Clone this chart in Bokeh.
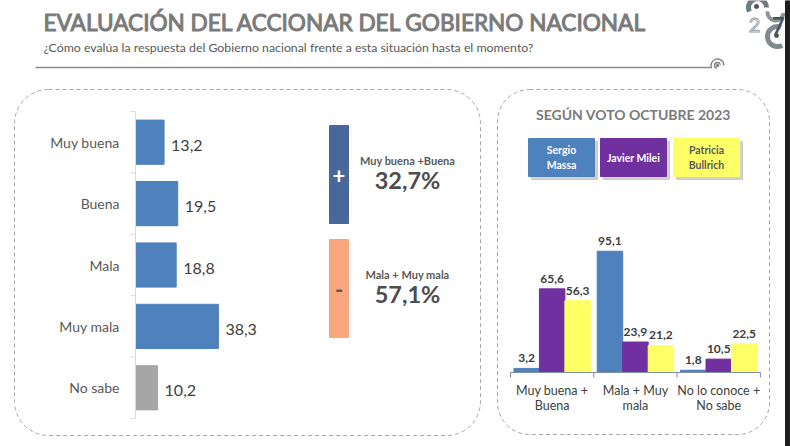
from bokeh.plotting import figure
from bokeh.models import Range1d
from bokeh.embed import file_html
from bokeh.resources import INLINE
from bokeh.core.properties import value

W, H = 790, 446

# ---------------- data ----------------
title_text = "EVALUACIÓN DEL ACCIONAR DEL GOBIERNO NACIONAL"
subtitle_text = "¿Cómo evalúa la respuesta del Gobierno nacional frente a esta situación hasta el momento?"

eval_cats = ["Muy buena", "Buena", "Mala", "Muy mala", "No sabe"]
eval_vals = [13.2, 19.5, 18.8, 38.3, 10.2]

summary_labels = ["Muy buena +Buena", "Mala + Muy mala"]
summary_vals = [32.7, 57.1]
summary_signs = ["+", "-"]

vote_title = "SEGÚN VOTO OCTUBRE 2023"
vote_groups = ["Muy buena +\nBuena", "Mala + Muy\nmala", "No lo conoce +\nNo sabe"]
candidates = ["Sergio\nMassa", "Javier Milei", "Patricia\nBullrich"]
massa = [3.2, 95.1, 1.8]
milei = [65.6, 23.9, 10.5]
bullrich = [56.3, 21.2, 22.5]


def fmt(v):
    return f"{v:.1f}".replace(".", ",")


# ---------------- styles / layout ----------------
FONT = value("Lato")
BLUE = "#4F81BD"
GREY_BAR = "#A6A6A6"
PURPLE = "#7030A0"
YELLOW = "#FFFF66"
DARK = "#404040"
MID = "#595959"
TITLE_GREY = "#7A7A7A"
cand_colors = [BLUE, PURPLE, YELLOW]
cand_text = ["white", "white", MID]
eval_colors = [BLUE, BLUE, BLUE, BLUE, GREY_BAR]

# left chart geometry (pixels)
L_X0, L_PX_PER = 135.0, 2.165
L_Y0, L_BAND = 111.0, 61.4
# right chart geometry (pixels)
R_X0, R_GROUP = 510.0, 83.3
R_Y0, R_PX_PER = 372.0, 1.275

p = figure(width=W, height=H, x_range=Range1d(0, W), y_range=Range1d(H, 0),
           output_backend="svg", toolbar_location=None,
           x_axis_type=None, y_axis_type=None, min_border=0)
p.outline_line_color = None
p.grid.visible = False
p.background_fill_color = "white"
p.border_fill_color = "white"

p.extra_x_ranges = {
    "lx": Range1d(-L_X0 / L_PX_PER, (W - L_X0) / L_PX_PER),
    "rx": Range1d(-R_X0 / R_GROUP, (W - R_X0) / R_GROUP),
}
p.extra_y_ranges = {
    "ly": Range1d((H - L_Y0) / L_BAND - 0.5, -L_Y0 / L_BAND - 0.5),
    "ry": Range1d(-(H - R_Y0) / R_PX_PER, R_Y0 / R_PX_PER),
}

# ---------------- header ----------------
p.text(x=[43], y=[22], text=[title_text], text_font=FONT, text_font_size="22.6px",
       text_color=TITLE_GREY, text_outline_color=TITLE_GREY,
       text_baseline="middle", text_align="left")
p.text(x=[43], y=[47], text=[subtitle_text], text_font=FONT, text_font_size="12.3px",
       text_color=MID, text_baseline="middle", text_align="left")
p.segment(x0=[35], y0=[67], x1=[710], y1=[67], line_color="#8C8C8C", line_width=1.6)
p.arc(x=[717, 717], y=[65, 65], radius=[3, 6.5], start_angle=[0.3, 0.0],
      end_angle=[4.5, 3.6], line_color="#7F7F7F", line_width=1.4)
p.scatter(x=[717], y=[65], size=2.5, color="#7F7F7F")

# logo (top right, partial)
p.arc(x=[757], y=[7], radius=[9], start_angle=[0], end_angle=[3.6],
      line_color="#6E7B80", line_width=5)
p.arc(x=[775], y=[12], radius=[8], start_angle=[3.0], end_angle=[6.2],
      line_color="#8A959A", line_width=4)
p.arc(x=[777], y=[36], radius=[10], start_angle=[1.2], end_angle=[5.2],
      line_color="#7E8A8F", line_width=5)
p.scatter(x=[756, 776], y=[6, 35], size=4, color="#4A555A")
p.text(x=[754], y=[24], text=["2"], text_font=FONT, text_font_size="20px",
       text_color="white", text_baseline="middle", text_align="center",
       text_outline_color="#9AA4A8")
p.text(x=[778], y=[25], text=["7"], text_font=FONT, text_font_size="22px",
       text_font_style="bold", text_color="#4A555A", text_baseline="middle",
       text_align="center")
p.quad(left=[785], right=[W], top=[0], bottom=[H], color="#1E1E1E")

# ---------------- panels ----------------
p.quad(left=[14], right=[480], top=[89], bottom=[435], fill_color=None,
       line_color="#A6A6A6", line_dash="4 3", line_width=1, border_radius=34)
p.quad(left=[497], right=[769], top=[89], bottom=[434], fill_color=None,
       line_color="#A6A6A6", line_dash="4 3", line_width=1, border_radius=32)

# ---------------- left chart ----------------
idx = list(range(len(eval_cats)))
p.hbar(y=idx, left=0, right=eval_vals, height=0.72, color=eval_colors,
       x_range_name="lx", y_range_name="ly")
p.text(x=eval_vals, y=idx, text=[fmt(v) for v in eval_vals], x_offset=7, y_offset=3,
       text_font=FONT, text_font_size="16px", text_color=DARK,
       text_baseline="middle", text_align="left",
       x_range_name="lx", y_range_name="ly")
p.text(x=[0] * len(idx), y=idx, text=eval_cats, x_offset=-16, y_offset=0,
       text_font=FONT, text_font_size="14px", text_color=MID,
       text_baseline="middle", text_align="right",
       x_range_name="lx", y_range_name="ly")
n = len(eval_cats)
p.segment(x0=[0], x1=[0], y0=[-0.5], y1=[n - 0.5], line_color="#D9D9D9",
          line_width=1, x_range_name="lx", y_range_name="ly")
bounds = [i - 0.5 for i in range(n + 1)]
tick = 5 / L_PX_PER
p.segment(x0=[-tick] * len(bounds), x1=[0] * len(bounds), y0=bounds, y1=bounds,
          line_color="#D9D9D9", line_width=1, x_range_name="lx", y_range_name="ly")

# summary boxes
box_colors = ["#48679A", "#FAA77F"]
sign_colors = ["white", MID]
box_tops = [125, 239]
for k in range(2):
    t = box_tops[k]
    p.quad(left=[329], right=[348], top=[t], bottom=[t + 98], color=box_colors[k])
    p.text(x=[338.5], y=[t + 50], text=[summary_signs[k]], text_font=FONT,
           text_font_size="22px", text_font_style="bold", text_color=sign_colors[k],
           text_baseline="middle", text_align="center")
    p.text(x=[407], y=[t + 35], text=[summary_labels[k]], text_font=FONT,
           text_font_size="11px", text_font_style="bold", text_color=MID,
           text_baseline="middle", text_align="center")
    p.text(x=[407], y=[t + 54], text=[fmt(summary_vals[k]) + "%"], text_font=FONT,
           text_font_size="23.5px", text_font_style="bold", text_color="#4D4D4D",
           text_baseline="middle", text_align="center")

# ---------------- right chart ----------------
p.text(x=[633], y=[114], text=[vote_title], text_font=FONT, text_font_size="14px",
       text_font_style="bold", text_color=TITLE_GREY, text_baseline="middle",
       text_align="center")

leg_left = [528, 600, 673]
for k in range(3):
    l = leg_left[k]
    p.quad(left=[l + 3], right=[l + 69], top=[141], bottom=[179], color="#BFBFBF",
           alpha=0.7)
    p.quad(left=[l], right=[l + 66], top=[138], bottom=[176], color=cand_colors[k])
    p.text(x=[l + 33], y=[157], text=[candidates[k]], text_font=FONT,
           text_font_size="10.5px", text_font_style="bold", text_color=cand_text[k],
           text_baseline="middle", text_align="center", text_line_height=1.2)

series = [massa, milei, bullrich]
BW = 0.306
for k, vals in enumerate(series):
    xs = [g + 0.5 + (k - 1) * BW for g in range(len(vote_groups))]
    p.vbar(x=xs, top=vals, bottom=0, width=BW, color=cand_colors[k],
           x_range_name="rx", y_range_name="ry")
    p.text(x=xs, y=vals, text=[fmt(v) for v in vals], y_offset=-6,
           text_font=FONT, text_font_size="12px", text_font_style="bold",
           text_color=DARK, text_baseline="bottom", text_align="center",
           x_range_name="rx", y_range_name="ry")

ng = len(vote_groups)
p.segment(x0=[0], x1=[ng], y0=[0], y1=[0], line_color="#7F8FA6", line_width=1,
          x_range_name="rx", y_range_name="ry")
rt = 5 / R_PX_PER
p.segment(x0=list(range(ng + 1)), x1=list(range(ng + 1)), y0=[0] * (ng + 1),
          y1=[-rt] * (ng + 1), line_color="#7F8FA6", line_width=1,
          x_range_name="rx", y_range_name="ry")
p.text(x=[g + 0.5 for g in range(ng)], y=[0] * ng, text=vote_groups, y_offset=10,
       text_font=FONT, text_font_size="12.5px", text_color=DARK,
       text_baseline="top", text_align="center", text_line_height=1.0,
       x_range_name="rx", y_range_name="ry")

open("out.html", "w").write(file_html(p, INLINE))
